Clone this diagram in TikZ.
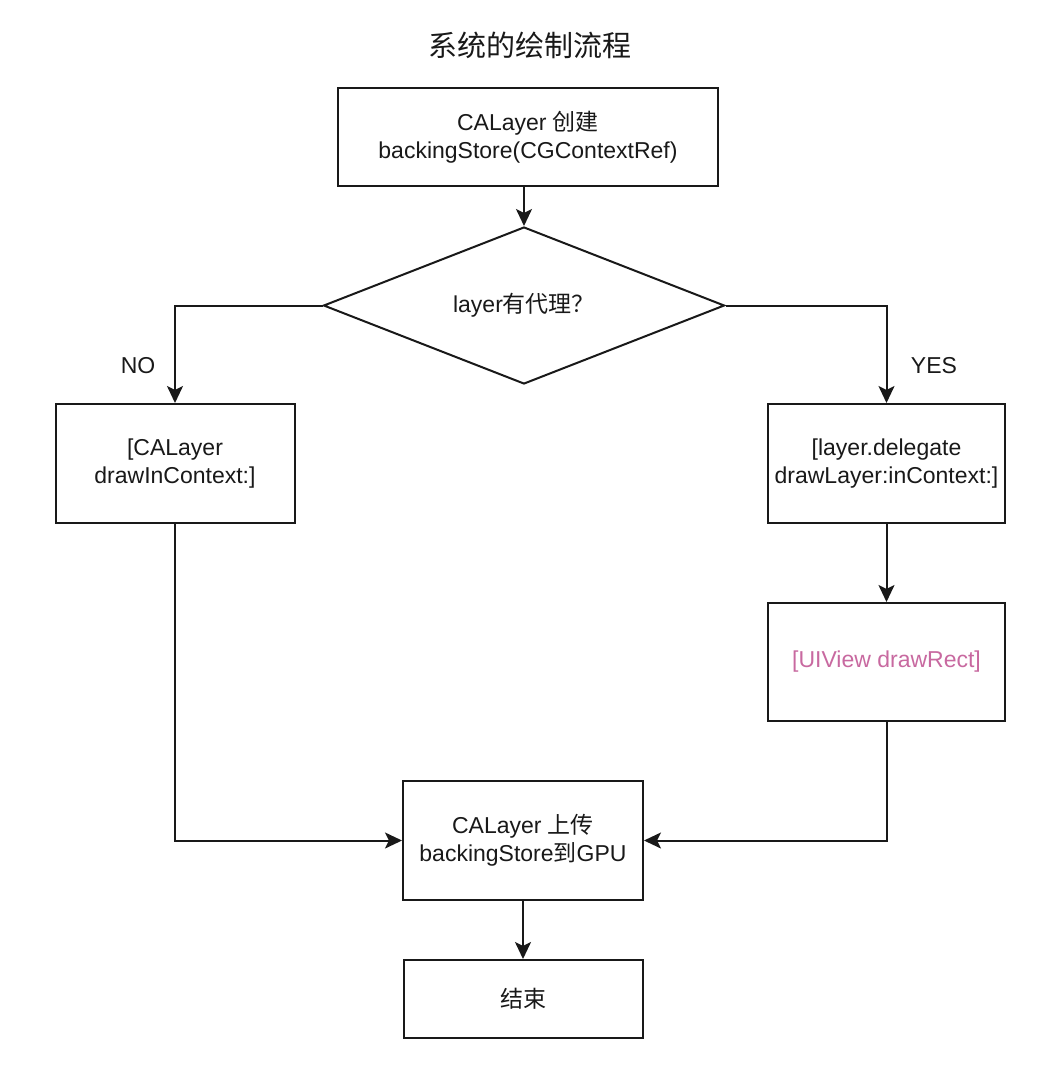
\documentclass[tikz,border=0pt]{standalone}
\usepackage{fontspec}
\setmainfont{Liberation Sans}
\newfontfamily\cjk{Noto Sans CJK SC}
\usetikzlibrary{shapes.geometric,arrows.meta}
\definecolor{pinktext}{RGB}{200,105,160}
\definecolor{ink}{RGB}{25,25,25}
\begin{document}
\begin{tikzpicture}[x=1pt,y=-1pt,
  every node/.style={font=\fontsize{23}{28}\selectfont, align=center, text=ink},
  box/.style={draw=ink, line width=2pt, rectangle, inner sep=0pt},
  dec/.style={draw=ink, line width=2pt, diamond, inner sep=0pt, minimum width=401pt, minimum height=157pt, aspect=2.55},
  conn/.style={draw=ink, line width=2pt, -{Stealth[length=17pt,width=16pt,inset=4pt]}},
  lbl/.style={inner sep=0pt}]
\useasboundingbox[fill=white] (0,0) rectangle (1060,1072);
\node[lbl, font=\fontsize{29}{34}\selectfont\cjk] (title) at (530,45) {系统的绘制流程};
\node[box, minimum width=380pt, minimum height=98pt] (create) at (528,137) {CALayer {\cjk 创建}\\backingStore(CGContextRef)};
\node[dec] (dec) at (524,305.5) {layer{\cjk 有代理？}};
\node[box, minimum width=239pt, minimum height=119pt] (left) at (175,463.5) {[CALayer\\drawInContext:]};
\node[box, minimum width=237pt, minimum height=119pt] (right) at (886.5,463.5) {[layer.delegate\\drawLayer:inContext:]};
\node[box, minimum width=237pt, minimum height=118pt, text=pinktext] (uiview) at (886.5,662) {[UIView drawRect]};
\node[box, minimum width=240pt, minimum height=119pt] (upload) at (523,840.5) {CALayer {\cjk 上传}\\backingStore{\cjk 到}GPU};
\node[box, minimum width=239pt, minimum height=78pt] (end) at (523,999) {\cjk 结束};
\node[lbl] (no) at (138,366) {NO};
\node[lbl] (yes) at (934,366) {YES};
\draw[conn] (dec.north |- create.south) -- (dec.north);
\draw[conn] (dec.west) -| (left.north);
\draw[conn] (dec.east) -| (right.north);
\draw[conn] (right.south) -- (uiview.north);
\draw[conn] (left.south) |- (upload.west);
\draw[conn] (uiview.south) |- (upload.east);
\draw[conn] (upload.south) -- (end.north);
\end{tikzpicture}
\end{document}
